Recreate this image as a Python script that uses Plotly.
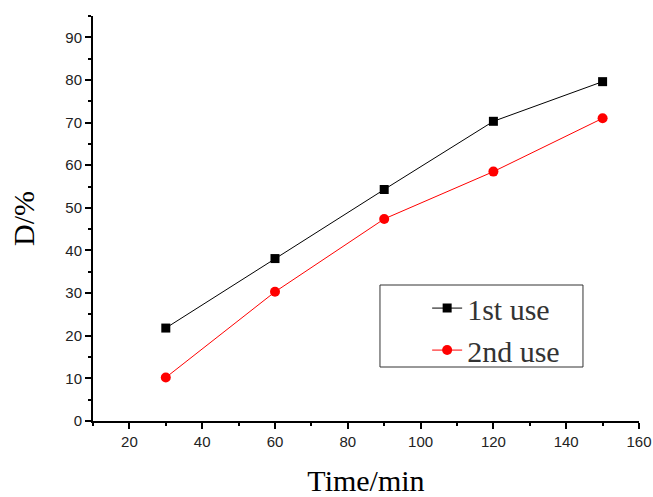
import plotly.graph_objects as go

time_min = [30, 60, 90, 120, 150]
first_use = [21.8, 38.1, 54.3, 70.3, 79.6]
second_use = [10.2, 30.3, 47.4, 58.5, 71.0]

fig = go.Figure()
fig.add_trace(go.Scatter(x=time_min, y=first_use, mode="lines+markers", name="1st use",
                         line=dict(color="black", width=1),
                         marker=dict(symbol="square", size=9, color="black")))
fig.add_trace(go.Scatter(x=time_min, y=second_use, mode="lines+markers", name="2nd use",
                         line=dict(color="red", width=1),
                         marker=dict(symbol="circle", size=10, color="red")))

axis_common = dict(showline=True, linecolor="black", linewidth=2, ticks="outside",
                   ticklen=6, tickwidth=2, tickcolor="black", showgrid=False, zeroline=False,
                   automargin=False,
                   tickfont=dict(family="Liberation Sans, Arial", size=15, color="#222"))

fig.update_xaxes(range=[10, 160], dtick=20, tick0=0,
                 minor=dict(ticks="outside", ticklen=3, tickwidth=2, tickcolor="black", dtick=10),
                 title=dict(text="Time/min", font=dict(family="Liberation Serif, Times New Roman", size=30, color="black"), standoff=30),
                 **axis_common)
fig.update_yaxes(range=[0, 95], dtick=10, tick0=0,
                 minor=dict(ticks="outside", ticklen=3, tickwidth=2, tickcolor="black", dtick=5),
                 title=dict(text="D/%", font=dict(family="Liberation Serif, Times New Roman", size=30, color="black"), standoff=22),
                 **axis_common)

# legend frame
fig.add_shape(type="rect", xref="paper", yref="paper",
              x0=0.5256, x1=0.8974, y0=0.1333, y1=0.3358,
              line=dict(color="#333", width=1), fillcolor="rgba(0,0,0,0)")

fig.update_layout(
    width=653, height=497,
    margin=dict(l=93, r=14, t=16, b=76),
    plot_bgcolor="white", paper_bgcolor="white",
    legend=dict(x=0.612, y=0.343, xanchor="left", yanchor="top",
                borderwidth=0, bgcolor="rgba(0,0,0,0)",
                font=dict(family="Liberation Serif, Times New Roman", size=30, color="#333"),
                tracegroupgap=0),
)

fig.write_html("out.html")
